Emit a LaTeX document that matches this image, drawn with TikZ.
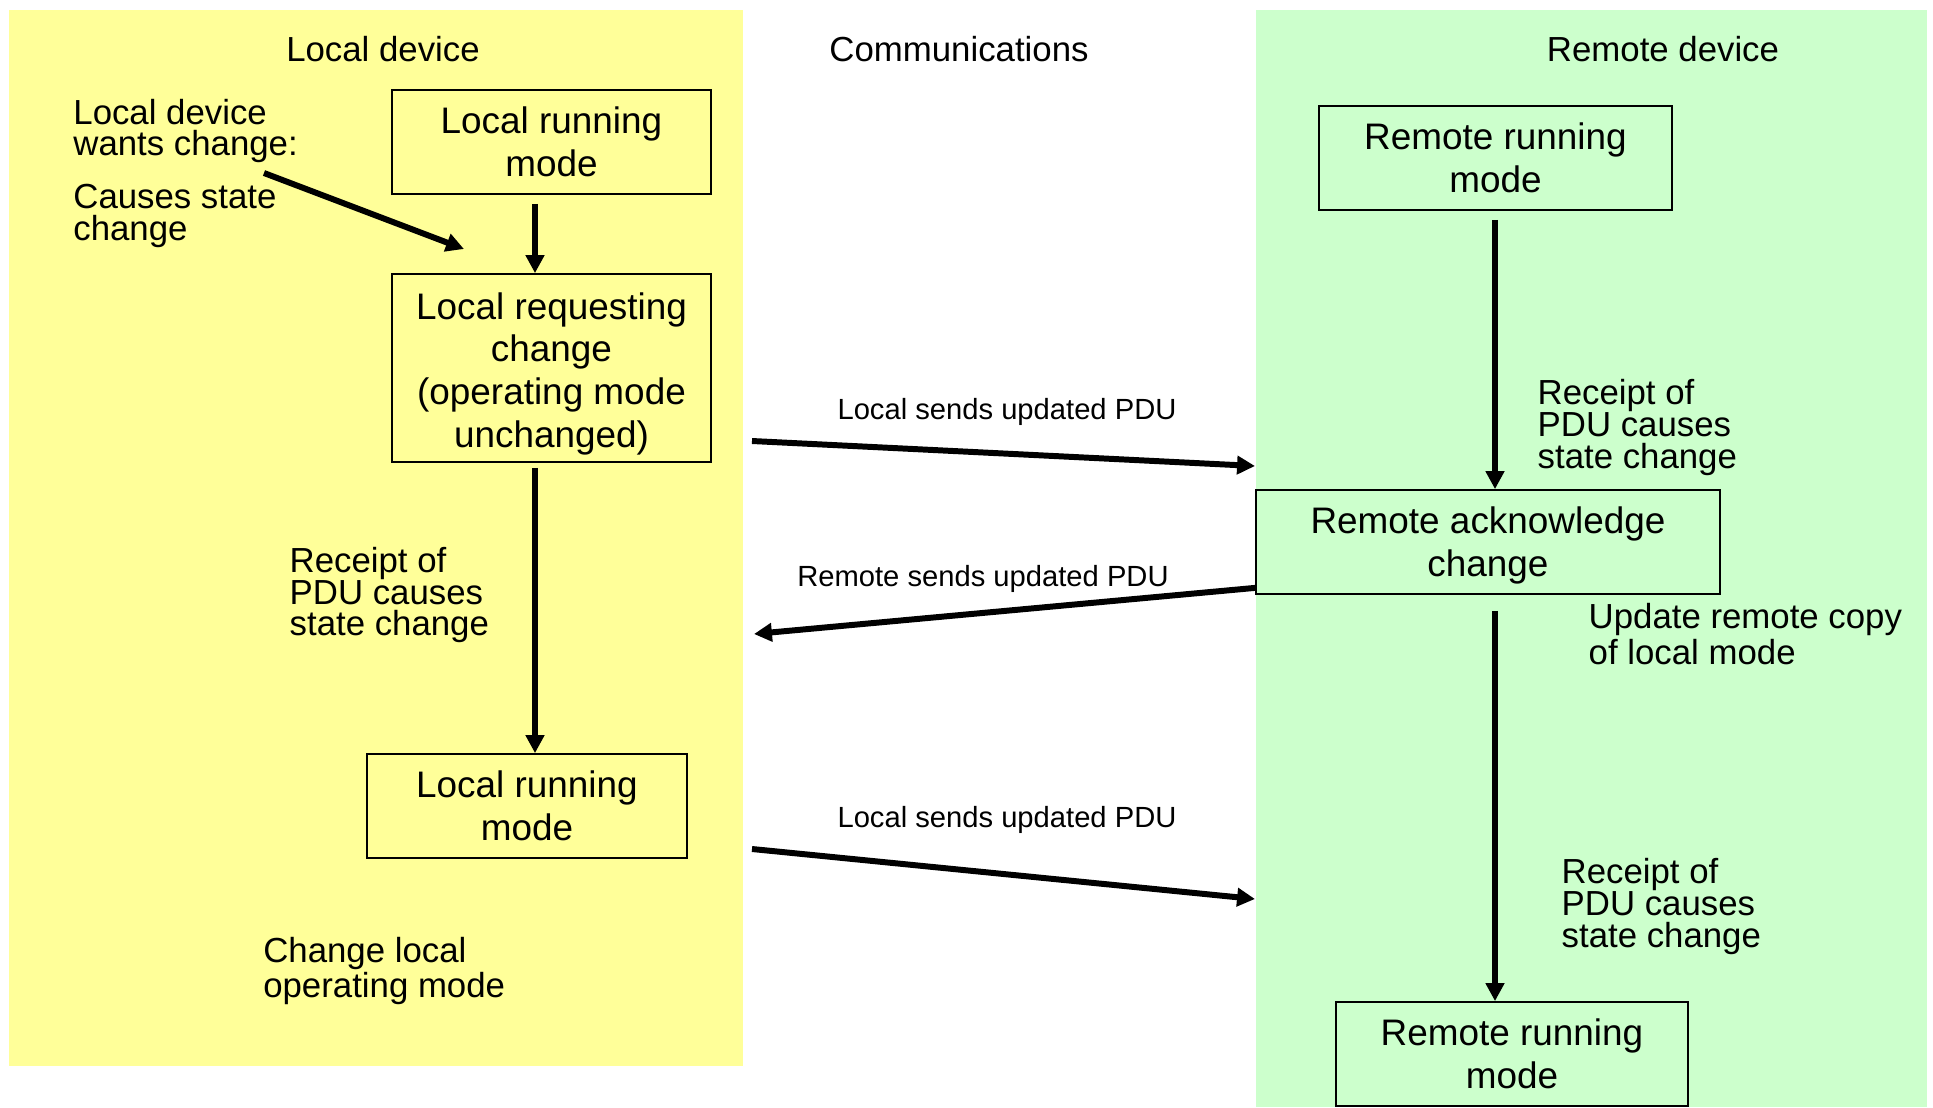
\documentclass[tikz,border=0pt]{standalone}
\usepackage{fontspec}
\setmainfont{Liberation Sans}
\usepackage{xcolor}
\usetikzlibrary{arrows.meta,positioning,calc}
\definecolor{localbg}{HTML}{FFFF99}
\definecolor{remotebg}{HTML}{CCFFCC}

\begin{document}
\begin{tikzpicture}[
    >={Triangle[length=5.1pt,width=5.1pt]},
    state/.style={rectangle, draw, line width=0.5pt, align=center, inner sep=0pt,
                  font=\fontsize{10.5}{12.2}\selectfont},
    note/.style={align=left, inner sep=0pt, font=\fontsize{9.9}{9.1}\selectfont},
    pdu/.style={inner sep=0pt, font=\fontsize{8.3}{10}\selectfont},
    arr/.style={->, line width=1.7pt}
]
    \useasboundingbox (0,0) rectangle (19.33,-11.08);
    \fill[localbg]  (0.09,-0.10) rectangle (7.43,-10.66);
    \fill[remotebg] (12.56,-0.10) rectangle (19.27,-11.07);

    % column titles
    \node[note] (ltitle) at (3.83,-0.49)  {Local device};
    \node[note] (ctitle) at (9.59,-0.49)  {Communications};
    \node[note] (rtitle) at (16.63,-0.49) {Remote device};

    % local states
    \node[state, minimum width=3.19cm, minimum height=1.04cm] (lrun1) at (5.515,-1.42)
        {Local running\\mode};
    \node[state, minimum width=3.19cm, minimum height=1.88cm] (lreq) at (5.515,-3.68)
        {\rule{0pt}{10.9pt}Local requesting\\change\\(operating mode\\unchanged)};
    \node[state, minimum width=3.20cm, minimum height=1.04cm] (lrun2) at (5.27,-8.06)
        {Local running\\mode};

    % remote states
    \node[state, minimum width=3.53cm, minimum height=1.04cm] (rrun1) at (14.955,-1.58)
        {Remote running\\mode};
    \node[state, minimum width=4.64cm, minimum height=1.04cm] (rack) at (14.88,-5.42)
        {\rule{0pt}{9.7pt}Remote acknowledge\\change};
    \node[state, minimum width=3.52cm, minimum height=1.04cm] (rrun2) at (15.12,-10.54)
        {Remote running\\mode};

    % side notes
    \node[note, anchor=west] (wants)   at (0.727,-1.31) {Local device\\wants change:};
    \node[note, anchor=west] (causes)  at (0.727,-2.16) {Causes state\\change};
    \node[note, anchor=west] (lrcpt)   at (2.89,-5.95)  {Receipt of\\PDU causes\\state change};
    \node[note, anchor=west] (lchange) at (2.626,-9.71) {Change local\\operating mode};
    \node[note, anchor=west] (rrcpt1)  at (15.37,-4.275) {Receipt of\\PDU causes\\state change};
    \node[note, anchor=west] (update)  at (15.88,-6.345) {Update remote copy\\of local mode};
    \node[note, anchor=west] (rrcpt2)  at (15.61,-9.065) {Receipt of\\PDU causes\\state change};

    % message labels
    \node[pdu] (pdu1) at (10.07,-4.115) {Local sends updated PDU};
    \node[pdu] (pdu2) at (9.83,-5.79)   {Remote sends updated PDU};
    \node[pdu] (pdu3) at (10.07,-8.195) {Local sends updated PDU};

    \coordinate (lx) at (5.35,0);
    \coordinate (rx) at (14.95,0);
    \coordinate (ws)  at (2.64,-1.73);
    \coordinate (we)  at (4.64,-2.49);
    \coordinate (p1s) at (7.52,-4.41);
    \coordinate (p1e) at (12.55,-4.66);
    \coordinate (p2e) at (7.54,-6.34);
    \coordinate (p3s) at (7.52,-8.49);
    \coordinate (p3e) at (12.55,-8.99);

    \draw[arr] (ws) -- (we);
    \draw[arr, shorten <=0.09cm] (lrun1.south -| lx) -- (lreq.north -| lx);
    \draw[arr, shorten <=0.05cm] (lreq.south -| lx)  -- (lrun2.north -| lx);
    \draw[arr, shorten <=0.09cm] (rrun1.south -| rx) -- (rack.north -| rx);
    \draw[arr, shorten <=0.16cm] (rack.south -| rx)  -- (rrun2.north -| rx);

    % messages between devices
    \draw[arr] (p1s) -- (p1e);
    \draw[arr] ([yshift=0.07cm]rack.south west) -- (p2e);
    \draw[arr] (p3s) -- (p3e);
\end{tikzpicture}
\end{document}
